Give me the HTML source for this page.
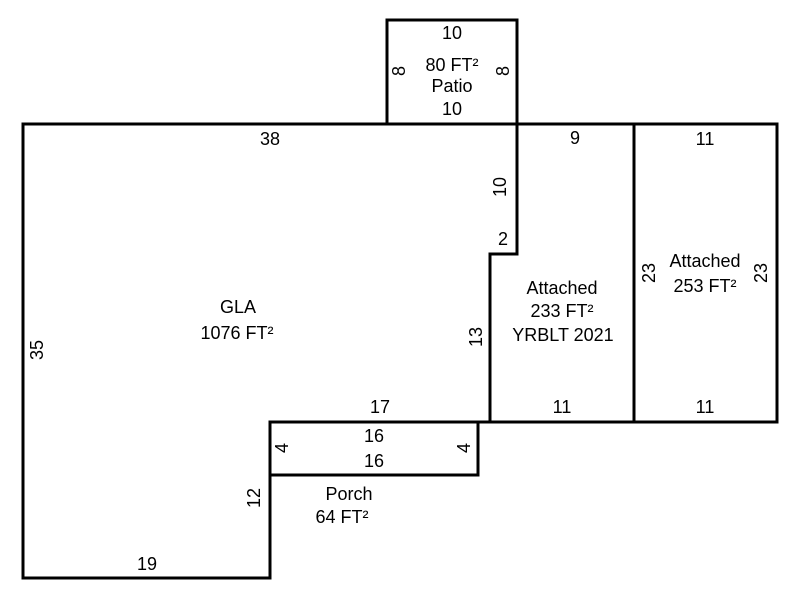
<!DOCTYPE html>
<html>
<head>
<meta charset="utf-8">
<style>
html,body{margin:0;padding:0;background:#fff;}
svg{display:block;}
text{font-family:"Liberation Sans",Arial,sans-serif;font-size:18px;fill:#000;}
</style>
</head>
<body>
<svg width="800" height="600" viewBox="0 0 800 600" xmlns="http://www.w3.org/2000/svg">
<g fill="none" stroke="#000" stroke-width="3" stroke-linejoin="miter" stroke-linecap="square">
  <!-- Patio -->
  <rect x="387" y="20" width="130" height="104"/>
  <!-- GLA -->
  <polygon points="23,124 517,124 517,254 490,254 490,422 270,422 270,578 23,578"/>
  <!-- Attached 1 -->
  <polygon points="517,124 634,124 634,422 490,422 490,254 517,254"/>
  <!-- Attached 2 -->
  <rect x="634" y="124" width="143" height="298"/>
  <!-- Porch -->
  <rect x="270" y="422" width="208" height="53"/>
</g>
<g text-anchor="middle">
  <!-- Patio -->
  <text x="452" y="39">10</text>
  <text x="452" y="71">80 FT²</text>
  <text x="452" y="92">Patio</text>
  <text x="452" y="115">10</text>
  <text x="405" y="71" transform="rotate(-90 405 71)">8</text>
  <text x="509" y="71" transform="rotate(-90 509 71)">8</text>
  <!-- GLA -->
  <text x="270" y="145">38</text>
  <text x="238" y="313">GLA</text>
  <text x="237" y="339">1076 FT²</text>
  <text x="43" y="350" transform="rotate(-90 43 350)">35</text>
  <text x="506" y="187" transform="rotate(-90 506 187)">10</text>
  <text x="503" y="245">2</text>
  <text x="482" y="337" transform="rotate(-90 482 337)">13</text>
  <text x="380" y="413">17</text>
  <text x="260" y="498" transform="rotate(-90 260 498)">12</text>
  <text x="147" y="570">19</text>
  <!-- Attached 1 -->
  <text x="575" y="144">9</text>
  <text x="562" y="294">Attached</text>
  <text x="562" y="317">233 FT²</text>
  <text x="563" y="341">YRBLT 2021</text>
  <text x="562" y="413">11</text>
  <!-- Attached 2 -->
  <text x="705" y="145">11</text>
  <text x="705" y="267">Attached</text>
  <text x="705" y="292">253 FT²</text>
  <text x="705" y="413">11</text>
  <text x="655" y="273" transform="rotate(-90 655 273)">23</text>
  <text x="767" y="273" transform="rotate(-90 767 273)">23</text>
  <!-- Porch -->
  <text x="374" y="442">16</text>
  <text x="374" y="467">16</text>
  <text x="288" y="448" transform="rotate(-90 288 448)">4</text>
  <text x="470" y="448" transform="rotate(-90 470 448)">4</text>
  <text x="349" y="500">Porch</text>
  <text x="342" y="523">64 FT²</text>
</g>
</svg>
</body>
</html>
